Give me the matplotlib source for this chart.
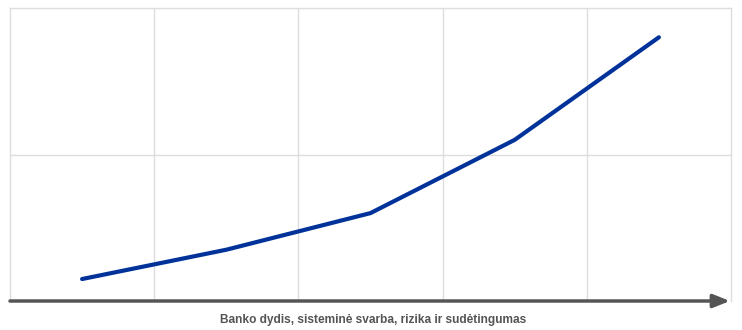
import matplotlib.pyplot as plt

# Data (arbitrary units, no tick labels shown)
categorijos = [0.5, 1.5, 2.5, 3.5, 4.5]
reikalavimai = [0.15, 0.35, 0.60, 1.10, 1.80]
x_tinklelis = [1, 2, 3, 4]
y_tinklelis = [1]
asies_pavadinimas = "Banko dydis, sisteminė svarba, rizika ir sudėtingumas"

fig = plt.figure(figsize=(7.42, 3.30), dpi=100)
ax = fig.add_axes([10 / 742, 29 / 330, 721 / 742, 293 / 330])
ax.set_xlim(0, 5)
ax.set_ylim(0, 2)

for x in x_tinklelis:
    ax.axvline(x, color="#dddddd", lw=1, zorder=1)
for y in y_tinklelis:
    ax.axhline(y, color="#dddddd", lw=1, zorder=1)

ax.plot(categorijos, reikalavimai, color="#003299", lw=3, solid_capstyle="round", zorder=3)

for side in ["left", "top", "right"]:
    ax.spines[side].set_color("#dddddd")
    ax.spines[side].set_linewidth(1)
ax.spines["bottom"].set_visible(False)
ax.set_xticks([])
ax.set_yticks([])

# horizontal axis drawn as an arrow
ax.annotate("", xy=(0.9985, 0), xycoords="axes fraction", xytext=(0, 0),
            arrowprops=dict(arrowstyle="-|>,head_length=1.0,head_width=0.4",
                            color="#555555", lw=2.5, shrinkA=0, shrinkB=0),
            annotation_clip=False, zorder=4)

fig.text(373 / 742, 1 - 320 / 330, asies_pavadinimas, ha="center", va="center",
         fontsize=8.6, fontweight="bold", color="#555555", family="Liberation Sans")

fig.savefig("out.png", dpi=100)
